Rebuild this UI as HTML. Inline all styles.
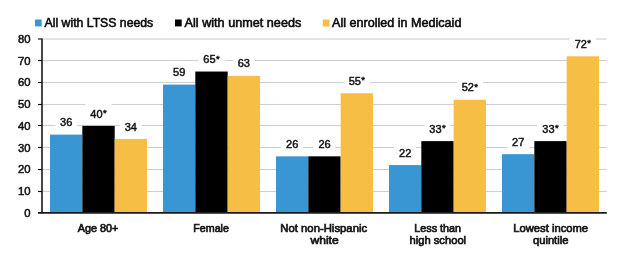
<!DOCTYPE html><html><head><meta charset="utf-8"><style>html,body{margin:0;padding:0;background:#fff;width:626px;height:266px;overflow:hidden}svg{display:block;will-change:transform}text{font-family:"Liberation Sans",sans-serif;fill:#141414;stroke:#141414;stroke-width:0.55px}</style></head><body>
<svg width="626" height="266" viewBox="0 0 626 266">
<rect x="42.00" y="190.95" width="564.80" height="1.1" fill="#cfcfcf"/>
<rect x="42.00" y="168.95" width="564.80" height="1.1" fill="#cfcfcf"/>
<rect x="42.00" y="146.95" width="564.80" height="1.1" fill="#cfcfcf"/>
<rect x="42.00" y="124.95" width="564.80" height="1.1" fill="#cfcfcf"/>
<rect x="42.00" y="103.95" width="564.80" height="1.1" fill="#cfcfcf"/>
<rect x="42.00" y="81.95" width="564.80" height="1.1" fill="#cfcfcf"/>
<rect x="42.00" y="59.95" width="564.80" height="1.1" fill="#cfcfcf"/>
<rect x="42.00" y="38.45" width="564.80" height="1.1" fill="#cfcfcf"/>
<rect x="50.01" y="134.60" width="32.35" height="78.30" fill="#3a96d3"/>
<rect x="82.34" y="125.90" width="32.35" height="87.00" fill="#000000"/>
<rect x="114.66" y="138.95" width="32.35" height="73.95" fill="#f6be44"/>
<rect x="163.00" y="84.58" width="32.35" height="128.32" fill="#3a96d3"/>
<rect x="195.33" y="71.53" width="32.35" height="141.38" fill="#000000"/>
<rect x="227.66" y="75.88" width="32.35" height="137.03" fill="#f6be44"/>
<rect x="276.00" y="156.35" width="32.35" height="56.55" fill="#3a96d3"/>
<rect x="308.33" y="156.35" width="32.35" height="56.55" fill="#000000"/>
<rect x="340.66" y="93.28" width="32.35" height="119.62" fill="#f6be44"/>
<rect x="389.00" y="165.05" width="32.35" height="47.85" fill="#3a96d3"/>
<rect x="421.33" y="141.12" width="32.35" height="71.78" fill="#000000"/>
<rect x="453.66" y="99.80" width="32.35" height="113.10" fill="#f6be44"/>
<rect x="502.00" y="154.18" width="32.35" height="58.72" fill="#3a96d3"/>
<rect x="534.34" y="141.12" width="32.35" height="71.78" fill="#000000"/>
<rect x="566.66" y="56.30" width="32.35" height="156.60" fill="#f6be44"/>
<rect x="55.27" y="111.60" width="21.80" height="18.80" fill="#fff"/>
<text x="66.17" y="126.20" font-size="11.00" text-anchor="middle" style="stroke-width:0.48px">36</text>
<rect x="85.35" y="102.90" width="26.30" height="18.80" fill="#fff"/>
<text x="98.50" y="117.50" font-size="11.00" text-anchor="middle" style="stroke-width:0.48px">40<tspan font-size="9.5" dx="0.3" dy="-1.6">*</tspan></text>
<rect x="119.93" y="115.95" width="21.80" height="18.80" fill="#fff"/>
<text x="130.83" y="130.55" font-size="11.00" text-anchor="middle" style="stroke-width:0.48px">34</text>
<rect x="168.27" y="61.58" width="21.80" height="18.80" fill="#fff"/>
<text x="179.17" y="76.18" font-size="11.00" text-anchor="middle" style="stroke-width:0.48px">59</text>
<rect x="198.35" y="48.53" width="26.30" height="18.80" fill="#fff"/>
<text x="211.50" y="63.13" font-size="11.00" text-anchor="middle" style="stroke-width:0.48px">65<tspan font-size="9.5" dx="0.3" dy="-1.6">*</tspan></text>
<rect x="232.93" y="52.87" width="21.80" height="18.80" fill="#fff"/>
<text x="243.83" y="67.47" font-size="11.00" text-anchor="middle" style="stroke-width:0.48px">63</text>
<rect x="281.27" y="133.35" width="21.80" height="18.80" fill="#fff"/>
<text x="292.17" y="147.95" font-size="11.00" text-anchor="middle" style="stroke-width:0.48px">26</text>
<rect x="313.60" y="133.35" width="21.80" height="18.80" fill="#fff"/>
<text x="324.50" y="147.95" font-size="11.00" text-anchor="middle" style="stroke-width:0.48px">26</text>
<rect x="343.68" y="70.28" width="26.30" height="18.80" fill="#fff"/>
<text x="356.83" y="84.88" font-size="11.00" text-anchor="middle" style="stroke-width:0.48px">55<tspan font-size="9.5" dx="0.3" dy="-1.6">*</tspan></text>
<rect x="394.27" y="142.05" width="21.80" height="18.80" fill="#fff"/>
<text x="405.17" y="156.65" font-size="11.00" text-anchor="middle" style="stroke-width:0.48px">22</text>
<rect x="424.35" y="118.12" width="26.30" height="18.80" fill="#fff"/>
<text x="437.50" y="132.72" font-size="11.00" text-anchor="middle" style="stroke-width:0.48px">33<tspan font-size="9.5" dx="0.3" dy="-1.6">*</tspan></text>
<rect x="456.68" y="76.80" width="26.30" height="18.80" fill="#fff"/>
<text x="469.83" y="91.40" font-size="11.00" text-anchor="middle" style="stroke-width:0.48px">52<tspan font-size="9.5" dx="0.3" dy="-1.6">*</tspan></text>
<rect x="507.27" y="131.18" width="21.80" height="18.80" fill="#fff"/>
<text x="518.17" y="145.78" font-size="11.00" text-anchor="middle" style="stroke-width:0.48px">27</text>
<rect x="537.35" y="118.12" width="26.30" height="18.80" fill="#fff"/>
<text x="550.50" y="132.72" font-size="11.00" text-anchor="middle" style="stroke-width:0.48px">33<tspan font-size="9.5" dx="0.3" dy="-1.6">*</tspan></text>
<rect x="569.68" y="33.30" width="26.30" height="18.80" fill="#fff"/>
<text x="582.83" y="47.90" font-size="11.00" text-anchor="middle" style="stroke-width:0.48px">72<tspan font-size="9.5" dx="0.3" dy="-1.6">*</tspan></text>
<line x1="42.00" y1="38.4" x2="42.00" y2="213.6" stroke="#1a1a1a" stroke-width="1.6"/>
<line x1="38" y1="212.90" x2="606.8" y2="212.90" stroke="#1a1a1a" stroke-width="1.6"/>
<line x1="38" y1="191.50" x2="42.00" y2="191.50" stroke="#111" stroke-width="1.15"/>
<line x1="38" y1="169.50" x2="42.00" y2="169.50" stroke="#111" stroke-width="1.15"/>
<line x1="38" y1="147.50" x2="42.00" y2="147.50" stroke="#111" stroke-width="1.15"/>
<line x1="38" y1="125.50" x2="42.00" y2="125.50" stroke="#111" stroke-width="1.15"/>
<line x1="38" y1="104.50" x2="42.00" y2="104.50" stroke="#111" stroke-width="1.15"/>
<line x1="38" y1="82.50" x2="42.00" y2="82.50" stroke="#111" stroke-width="1.15"/>
<line x1="38" y1="60.50" x2="42.00" y2="60.50" stroke="#111" stroke-width="1.15"/>
<line x1="38" y1="39.00" x2="42.00" y2="39.00" stroke="#111" stroke-width="1.15"/>
<text x="30.5" y="216.90" font-size="11.3" text-anchor="end">0</text>
<text x="30.5" y="195.15" font-size="11.3" text-anchor="end">10</text>
<text x="30.5" y="173.40" font-size="11.3" text-anchor="end">20</text>
<text x="30.5" y="151.65" font-size="11.3" text-anchor="end">30</text>
<text x="30.5" y="129.90" font-size="11.3" text-anchor="end">40</text>
<text x="30.5" y="108.15" font-size="11.3" text-anchor="end">50</text>
<text x="30.5" y="86.40" font-size="11.3" text-anchor="end">60</text>
<text x="30.5" y="64.65" font-size="11.3" text-anchor="end">70</text>
<text x="30.5" y="42.90" font-size="11.3" text-anchor="end">80</text>
<text x="98.00" y="231.50" font-size="11.40" text-anchor="middle" textLength="40.60" lengthAdjust="spacingAndGlyphs" style="stroke-width:0.7px">Age 80+</text>
<text x="211.10" y="231.50" font-size="11.40" text-anchor="middle" textLength="35.60" lengthAdjust="spacingAndGlyphs" style="stroke-width:0.7px">Female</text>
<text x="323.70" y="231.50" font-size="11.40" text-anchor="middle" textLength="86.80" lengthAdjust="spacingAndGlyphs" style="stroke-width:0.7px">Not non-Hispanic</text>
<text x="324.60" y="244.40" font-size="11.40" text-anchor="middle" textLength="28.20" lengthAdjust="spacingAndGlyphs" style="stroke-width:0.7px">white</text>
<text x="437.70" y="231.50" font-size="11.40" text-anchor="middle" textLength="46.80" lengthAdjust="spacingAndGlyphs" style="stroke-width:0.7px">Less than</text>
<text x="437.80" y="244.40" font-size="11.40" text-anchor="middle" textLength="56.60" lengthAdjust="spacingAndGlyphs" style="stroke-width:0.7px">high school</text>
<text x="550.70" y="231.50" font-size="11.40" text-anchor="middle" textLength="74.80" lengthAdjust="spacingAndGlyphs" style="stroke-width:0.7px">Lowest income</text>
<text x="550.70" y="244.40" font-size="11.40" text-anchor="middle" textLength="35.60" lengthAdjust="spacingAndGlyphs" style="stroke-width:0.7px">quintile</text>
<rect x="35.00" y="19.5" width="6.7" height="6.9" fill="#3a96d3"/>
<text x="44.60" y="26.7" font-size="12" textLength="108.6" lengthAdjust="spacingAndGlyphs" style="fill:#0a0a0a;stroke:#0a0a0a">All with LTSS needs</text>
<rect x="175.00" y="19.5" width="6.7" height="6.9" fill="#000000"/>
<text x="184.60" y="26.7" font-size="12" textLength="116.7" lengthAdjust="spacingAndGlyphs" style="fill:#0a0a0a;stroke:#0a0a0a">All with unmet needs</text>
<rect x="322.80" y="19.5" width="6.7" height="6.9" fill="#f6be44"/>
<text x="332.00" y="26.7" font-size="12" textLength="129.4" lengthAdjust="spacingAndGlyphs" style="fill:#0a0a0a;stroke:#0a0a0a">All enrolled in Medicaid</text>
</svg></body></html>
